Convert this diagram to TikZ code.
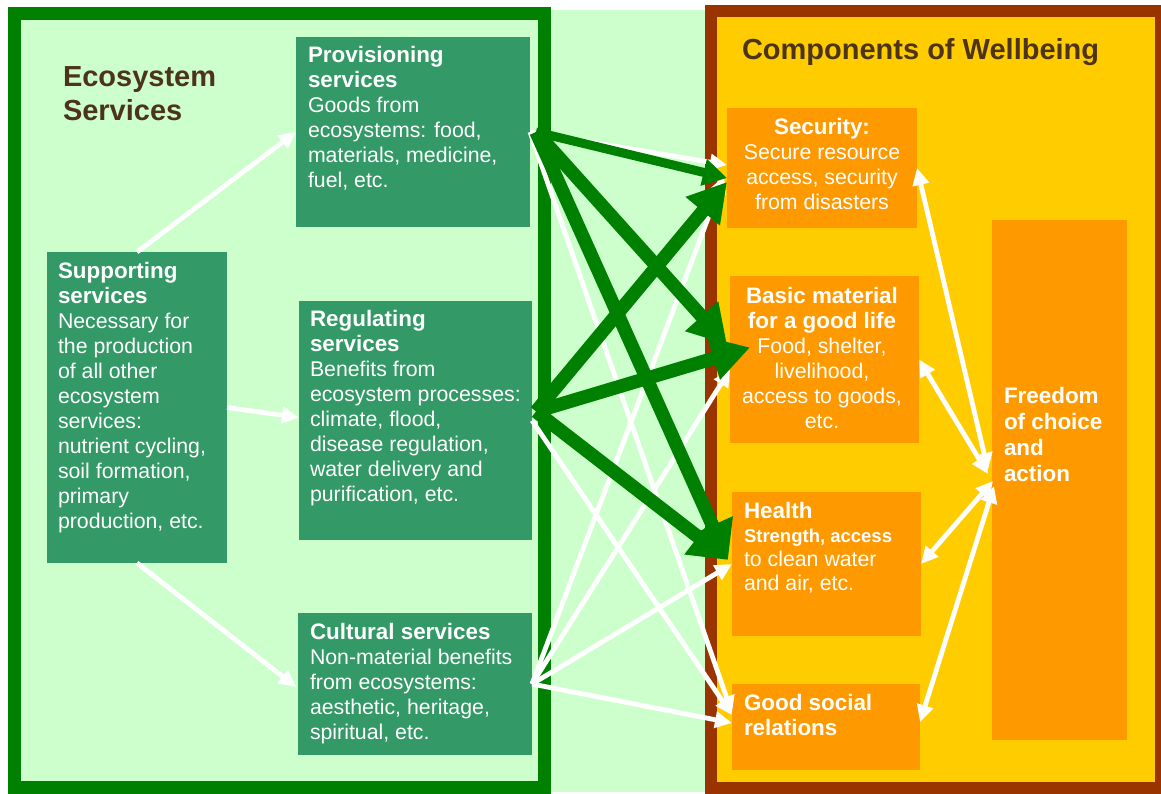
\documentclass[tikz,border=0pt]{standalone}
\usepackage{fontspec}
\setmainfont{Liberation Sans}
\usetikzlibrary{arrows.meta,calc}
\definecolor{lgreen}{HTML}{CCFFCC}
\definecolor{fgreen}{HTML}{008000}
\definecolor{bgreen}{HTML}{339966}
\definecolor{orng}{HTML}{FF9900}
\definecolor{yell}{HTML}{FFCC00}
\definecolor{brwn}{HTML}{993300}
\definecolor{ttl}{HTML}{4D3319}
\newcommand\hd[1]{{\fontsize{22.4}{25}\bfseries\selectfont #1}}
\newcommand\hdsmall[1]{{\fontsize{18.5}{25}\bfseries\selectfont #1}}
\begin{document}
\begin{tikzpicture}[x=1pt,y=-1pt,
  gbox/.style={fill=bgreen, draw=none, inner sep=0, outer sep=0, anchor=north west},
  obox/.style={fill=orng, draw=none, inner sep=0, outer sep=0, anchor=north west},
  txt/.style={text=white, inner sep=0, outer sep=0, font=\fontsize{21.3}{25}\selectfont},
  ttltxt/.style={text=ttl, inner sep=0, outer sep=0, font=\fontsize{29}{34}\bfseries\selectfont},
  warr/.style={draw=white, line width=4.8pt, -{Triangle[length=17pt,width=16pt]}},
  wdbl/.style={draw=white, line width=4.8pt, {Triangle[length=17pt,width=16pt]}-{Triangle[length=17pt,width=16pt]}},
  garr/.style={draw=fgreen, line width=13.5pt, -{Triangle[length=38pt,width=42pt]}},
  garrthin/.style={draw=fgreen, line width=9pt, -{Triangle[length=24pt,width=26pt]}},
]
\useasboundingbox (0,0) rectangle (1161,794);
\fill[white] (0,0) rectangle (1161,794);
% backgrounds
\fill[lgreen] (8,10) rectangle (708,792);
\draw[brwn, line width=12pt, fill=yell] (711,11) rectangle (1161,788);
\draw[fgreen, line width=13pt] (14,14) rectangle (544,787);

% titles
\node[ttltxt, anchor=base west] (esTitle) at (63,86.5) {\begin{tabular}[t]{@{}l@{}}Ecosystem\\Services\end{tabular}};
\node[ttltxt, anchor=base west] (cwTitle) at (742,59.5) {Components of Wellbeing};

% service boxes
\node[gbox, minimum width=234, minimum height=190] (prov) at (296,37) {};
\node[gbox, minimum width=180, minimum height=311] (sup) at (47,252) {};
\node[gbox, minimum width=233, minimum height=239] (reg) at (299,301) {};
\node[gbox, minimum width=234, minimum height=142] (cult) at (298,613) {};

% wellbeing boxes
\node[obox, minimum width=190, minimum height=120] (sec) at (727,108) {};
\node[obox, minimum width=189, minimum height=167] (basic) at (730,276) {};
\node[obox, minimum width=189, minimum height=144] (health) at (732,492) {};
\node[obox, minimum width=188, minimum height=86] (soc) at (732,684) {};
\node[obox, minimum width=135, minimum height=520] (free) at (992,220) {};

% texts
\node[txt, anchor=base west] (provT) at (308,63) {\begin{tabular}[t]{@{}l@{}}\hd{Provisioning}\\\hd{services}\\Goods from\\ecosystems: food,\\materials, medicine,\\fuel, etc.\end{tabular}};
\node[txt, anchor=base west] (supT) at (58,278) {\begin{tabular}[t]{@{}l@{}}\hd{Supporting}\\\hd{services}\\Necessary for\\the production\\of all other\\ecosystem\\services:\\nutrient cycling,\\soil formation,\\primary\\production, etc.\end{tabular}};
\node[txt, anchor=base west] (regT) at (310,326) {\begin{tabular}[t]{@{}l@{}}\hd{Regulating}\\\hd{services}\\Benefits from\\ecosystem processes:\\climate, flood,\\disease regulation,\\water delivery and\\purification, etc.\end{tabular}};
\node[txt, anchor=base west] (cultT) at (310,639) {\begin{tabular}[t]{@{}l@{}}\hd{Cultural services}\\Non-material benefits\\from ecosystems:\\aesthetic, heritage,\\spiritual, etc.\end{tabular}};
\node[txt, anchor=base] (secT) at (822,135) {\begin{tabular}[t]{@{}c@{}}\hd{Security:}\\Secure resource\\access, security\\from disasters\end{tabular}};
\node[txt, anchor=base] (basicT) at (822,303) {\begin{tabular}[t]{@{}c@{}}\hd{Basic material}\\\hd{for a good life}\\Food, shelter,\\livelihood,\\access to goods,\\etc.\end{tabular}};
\node[txt, anchor=base west, font=\fontsize{21.3}{24}\selectfont] (healthT) at (744,518) {\begin{tabular}[t]{@{}l@{}}\hd{Health}\\\hdsmall{Strength, access}\\to clean water\\and air, etc.\end{tabular}};
\node[txt, anchor=base west] (socT) at (744,710) {\begin{tabular}[t]{@{}l@{}}\hd{Good social}\\\hd{relations}\end{tabular}};
\node[txt, anchor=base west, font=\fontsize{22.4}{26.3}\bfseries\selectfont] (freeT) at (1004,403) {\begin{tabular}[t]{@{}l@{}}Freedom\\of choice\\and\\action\end{tabular}};

% supporting arrows
\draw[warr] (sup.north) -- (prov.west);
\draw[warr] (sup.east) -- ($(reg.west)+(0,-3)$);
\draw[warr] (sup.south) -- ($(cult.west)+(-2,3)$);

% white arrows from services
\draw[warr] (prov.east) -- ($(sec.west)+(0,-3)$);
\draw[warr] (prov.east) -- ($(soc.west)+(0,-14)$);
\draw[warr] (reg.east) -- ($(soc.west)+(0,-12)$);
\draw[warr] (cult.east) -- ($(sec.west)+(-3,8)$);
\draw[warr] (cult.east) -- ($(basic.west)+(0,10)$);
\draw[warr] (cult.east) -- (health.west);
\draw[warr] (cult.east) -- ($(soc.west)+(0,-4)$);

% green arrows
\coordinate (pG) at ($(prov.east)+(6,0)$);
\coordinate (rG) at ($(reg.east)+(4,-9)$);
\draw[garrthin] (pG) -- ($(sec.west)+(0,10)$);
\draw[garr] (pG) -- ($(basic.west)+(-3,-15)$);
\draw[garr] (pG) -- ($(health.west)+(-4,-4)$);
\draw[garr] (rG) -- ($(sec.west)+(0,14)$);
\draw[garr] (rG) -- ($(basic.west)+(20,-12)$);
\draw[garr] (rG) -- ($(health.west)+(-4,-4)$);

% wellbeing to freedom
\draw[wdbl] (sec.east) -- ($(free.west)+(-4,-10)$);
\draw[wdbl] (basic.east) -- ($(free.west)+(-4,-6)$);
\draw[wdbl] (health.east) -- ($(free.west)+(1,1)$);
\draw[wdbl] ($(soc.east)+(0,-5)$) -- ($(free.west)+(2,6)$);
\end{tikzpicture}
\end{document}
